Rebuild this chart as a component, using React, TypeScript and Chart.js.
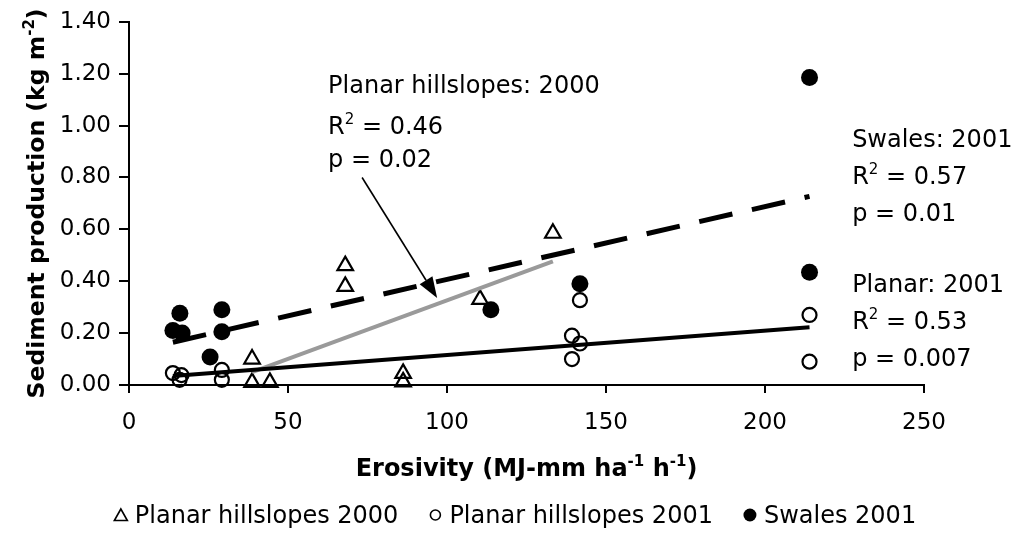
import React, { useEffect, useRef } from 'react';
import { Chart, registerables } from 'chart.js';

Chart.register(...registerables);

const FONT = '"DejaVu Sans", "Liberation Sans", sans-serif';

// Planar hillslopes, 2000 season
const planar2000Erosivity = [38.7, 38.7, 44.3, 68.0, 68.0, 86.2, 86.2, 110.4, 133.3];
const planar2000Sediment = [0.10, 0.01, 0.01, 0.46, 0.38, 0.045, 0.012, 0.33, 0.585];

// Planar hillslopes, 2001 season
const planar2001Erosivity = [13.8, 16.5, 15.9, 29.2, 29.2, 139.3, 141.8, 139.3, 141.8, 214.0, 214.0];
const planar2001Sediment = [0.046, 0.038, 0.02, 0.058, 0.02, 0.19, 0.16, 0.10, 0.327, 0.27, 0.09];

// Swales, 2001 season
const swales2001Erosivity = [16.0, 13.8, 16.7, 29.2, 29.2, 25.5, 113.8, 141.8, 214.0, 214.0];
const swales2001Sediment = [0.277, 0.21, 0.20, 0.29, 0.205, 0.108, 0.29, 0.39, 1.185, 0.435];

// Regression line end points
const fitPlanar2000X = [38.7, 133.3];
const fitPlanar2000Y = [0.05, 0.477];
const fitPlanar2001X = [13.8, 214.0];
const fitPlanar2001Y = [0.035, 0.223];
const fitSwales2001X = [13.8, 214.0];
const fitSwales2001Y = [0.165, 0.727];

// Axis ticks
const xTicks = [0, 50, 100, 150, 200, 250];
const yTicks = [0, 0.2, 0.4, 0.6, 0.8, 1.0, 1.2, 1.4];

// Regression statistics
const statTitles = ['Planar hillslopes: 2000', 'Swales: 2001', 'Planar: 2001'];
const statR2 = ['0.46', '0.57', '0.53'];
const statP = ['0.02', '0.01', '0.007'];

// Legend entries
const legendLabels = ['Planar hillslopes 2000', 'Planar hillslopes 2001', 'Swales 2001'];

// Placement of the statistics blocks (data units, baseline of first line) and line offsets in px
const statAnchors = [
  { x: 62.6, y: 1.127, lines: [0, 41, 74] },
  { x: 227.4, y: 0.919, lines: [0, 37, 74] },
  { x: 227.4, y: 0.358, lines: [0, 37, 74] },
];
const arrowFrom = { x: 73.3, y: 0.8 };
const arrowTo = { x: 96.9, y: 0.335 };

type Part = [string, boolean];

function drawRich(
  ctx: CanvasRenderingContext2D,
  parts: Part[],
  x: number,
  y: number,
  size: number,
  bold: boolean,
  align: 'left' | 'center'
) {
  const weight = bold ? 'bold ' : '';
  const supSize = Math.round(size * 0.64);
  const widths = parts.map(([t, sup]) => {
    ctx.font = `${weight}${sup ? supSize : size}px ${FONT}`;
    return ctx.measureText(t).width;
  });
  const total = widths.reduce((a, b) => a + b, 0);
  let cx = align === 'center' ? x - total / 2 : x;
  ctx.textAlign = 'left';
  ctx.textBaseline = 'alphabetic';
  parts.forEach(([t, sup], i) => {
    ctx.font = `${weight}${sup ? supSize : size}px ${FONT}`;
    ctx.fillText(t, cx, sup ? y - size * 0.42 : y);
    cx += widths[i];
  });
}

const decorations = {
  id: 'decorations',
  afterDatasetsDraw(chart: any) {
    const ctx: CanvasRenderingContext2D = chart.ctx;
    const xs = chart.scales.x;
    const ys = chart.scales.y;
    const area = chart.chartArea;
    ctx.save();
    ctx.fillStyle = '#000';
    ctx.strokeStyle = '#000';

    // Pointer arrow toward the 2000 regression line
    const x0 = xs.getPixelForValue(arrowFrom.x);
    const y0 = ys.getPixelForValue(arrowFrom.y);
    const x1 = xs.getPixelForValue(arrowTo.x);
    const y1 = ys.getPixelForValue(arrowTo.y);
    const ang = Math.atan2(y1 - y0, x1 - x0);
    const headLen = 21;
    const headHalf = 7.5;
    const bx = x1 - Math.cos(ang) * headLen;
    const by = y1 - Math.sin(ang) * headLen;
    ctx.lineWidth = 1.6;
    ctx.beginPath();
    ctx.moveTo(x0, y0);
    ctx.lineTo(bx, by);
    ctx.stroke();
    ctx.beginPath();
    ctx.moveTo(x1, y1);
    ctx.lineTo(bx - Math.sin(ang) * headHalf, by + Math.cos(ang) * headHalf);
    ctx.lineTo(bx + Math.sin(ang) * headHalf, by - Math.cos(ang) * headHalf);
    ctx.closePath();
    ctx.fill();

    // Regression statistics
    const size = 24;
    statTitles.forEach((title, i) => {
      const a = statAnchors[i];
      const lx = xs.getPixelForValue(a.x);
      const ly = ys.getPixelForValue(a.y);
      drawRich(ctx, [[title, false]], lx, ly + a.lines[0], size, false, 'left');
      drawRich(ctx, [['R', false], ['2', true], [` = ${statR2[i]}`, false]], lx, ly + a.lines[1], size, false, 'left');
      drawRich(ctx, [[`p = ${statP[i]}`, false]], lx, ly + a.lines[2], size, false, 'left');
    });

    // Axis titles
    drawRich(
      ctx,
      [['Erosivity (MJ-mm ha', false], ['-1', true], [' h', false], ['-1', true], [')', false]],
      (area.left + area.right) / 2,
      476,
      24,
      true,
      'center'
    );
    ctx.save();
    ctx.translate(44, (area.top + area.bottom) / 2);
    ctx.rotate(-Math.PI / 2);
    drawRich(
      ctx,
      [['Sediment production (kg m', false], ['-2', true], [')', false]],
      0,
      0,
      23.5,
      true,
      'center'
    );
    ctx.restore();

    // Legend
    const lgSize = 24;
    ctx.font = `${lgSize}px ${FONT}`;
    const markerW = 14;
    const markerGap = 7;
    const itemGap = 30;
    const textW = legendLabels.map((t) => ctx.measureText(t).width);
    const totalW =
      textW.reduce((a, b) => a + b, 0) + legendLabels.length * (markerW + markerGap) + itemGap * (legendLabels.length - 1);
    let lx = 515 - totalW / 2;
    const baseY = 523;
    const my = baseY - 8;
    legendLabels.forEach((label, i) => {
      const cx = lx + markerW / 2;
      ctx.lineWidth = 1.6;
      ctx.beginPath();
      if (i === 0) {
        ctx.moveTo(cx, my - 6);
        ctx.lineTo(cx + 6.5, my + 5.5);
        ctx.lineTo(cx - 6.5, my + 5.5);
        ctx.closePath();
        ctx.stroke();
      } else if (i === 1) {
        ctx.arc(cx, my, 5, 0, Math.PI * 2);
        ctx.stroke();
      } else {
        ctx.arc(cx, my, 6.5, 0, Math.PI * 2);
        ctx.fill();
      }
      lx += markerW + markerGap;
      ctx.font = `${lgSize}px ${FONT}`;
      ctx.textAlign = 'left';
      ctx.textBaseline = 'alphabetic';
      ctx.fillText(label, lx, baseY);
      lx += textW[i] + itemGap;
    });

    ctx.restore();
  },
};

function toPoints(xs: number[], ys: number[]) {
  return xs.map((x, i) => ({ x, y: ys[i] }));
}

export default function App() {
  const canvasRef = useRef<HTMLCanvasElement | null>(null);

  useEffect(() => {
    document.body.style.margin = '0';
    const canvas = canvasRef.current;
    if (!canvas) return;

    const chart = new Chart(canvas, {
      type: 'scatter',
      data: {
        datasets: [
          {
            label: 'Swales 2001 fit',
            data: toPoints(fitSwales2001X, fitSwales2001Y),
            showLine: true,
            borderColor: '#000',
            borderWidth: 5,
            borderDash: [34, 20],
            borderCapStyle: 'butt',
            pointRadius: 0,
            clip: false,
          } as any,
          {
            label: 'Planar hillslopes 2001 fit',
            data: toPoints(fitPlanar2001X, fitPlanar2001Y),
            showLine: true,
            borderColor: '#000',
            borderWidth: 4,
            pointRadius: 0,
            clip: false,
          } as any,
          {
            label: 'Planar hillslopes 2000 fit',
            data: toPoints(fitPlanar2000X, fitPlanar2000Y),
            showLine: true,
            borderColor: '#9a9a9a',
            borderWidth: 4,
            pointRadius: 0,
            clip: false,
          } as any,
          {
            label: legendLabels[2],
            data: toPoints(swales2001Erosivity, swales2001Sediment),
            pointStyle: 'circle',
            pointRadius: 8.5,
            backgroundColor: '#000',
            borderColor: '#000',
            borderWidth: 0,
            clip: false,
          } as any,
          {
            label: legendLabels[1],
            data: toPoints(planar2001Erosivity, planar2001Sediment),
            pointStyle: 'circle',
            pointRadius: 7,
            backgroundColor: 'rgba(255,255,255,0)',
            borderColor: '#000',
            borderWidth: 2.2,
            clip: false,
          } as any,
          {
            label: legendLabels[0],
            data: toPoints(planar2000Erosivity, planar2000Sediment),
            pointStyle: 'triangle',
            pointRadius: 9,
            backgroundColor: 'rgba(255,255,255,0)',
            borderColor: '#000',
            borderWidth: 2.2,
            clip: false,
          } as any,
        ],
      },
      options: {
        animation: false,
        responsive: false,
        devicePixelRatio: 1,
        layout: { padding: { left: 0, top: 21, right: 94, bottom: 0 } },
        plugins: {
          legend: { display: false },
          tooltip: { enabled: false },
        },
        scales: {
          x: {
            type: 'linear',
            min: 0,
            max: 250,
            afterBuildTicks: (s: any) => {
              s.ticks = xTicks.map((v) => ({ value: v }));
            },
            afterFit: (s: any) => {
              s.height = 161;
            },
            ticks: {
              color: '#000',
              font: { family: FONT, size: 23 },
              padding: 16,
              callback: (v: any) => String(v),
            },
            grid: { drawOnChartArea: false, drawTicks: true, tickLength: 8, color: '#000', lineWidth: 2 },
            border: { display: true, color: '#000', width: 2 },
          },
          y: {
            type: 'linear',
            min: 0,
            max: 1.4,
            afterBuildTicks: (s: any) => {
              s.ticks = yTicks.map((v) => ({ value: v }));
            },
            afterFit: (s: any) => {
              s.width = 129;
            },
            ticks: {
              color: '#000',
              font: { family: FONT, size: 23 },
              padding: 8,
              callback: (v: any) => Number(v).toFixed(2),
            },
            grid: { drawOnChartArea: false, drawTicks: true, tickLength: 10, color: '#000', lineWidth: 2 },
            border: { display: true, color: '#000', width: 2 },
          },
        },
      } as any,
      plugins: [decorations],
    });

    return () => {
      chart.destroy();
    };
  }, []);

  return (
    <div style={{ width: 1018, height: 546, background: '#fff' }}>
      <canvas ref={canvasRef} width={1018} height={546} style={{ display: 'block' }} />
    </div>
  );
}
